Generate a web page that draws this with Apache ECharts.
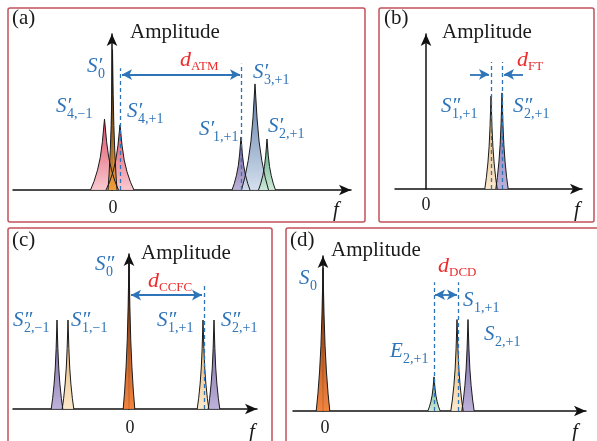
<!DOCTYPE html>
<html>
<head>
<meta charset="utf-8">
<script src="https://cdn.jsdelivr.net/npm/echarts@6/dist/echarts.min.js"></script>
<style>
  html, body { margin: 0; background: #fff; }
  #chart { width: 597px; height: 441px; }
</style>
</head>
<body>
<div id="chart"></div>
<script>
// shape of one spectral line: relative offset from centre / relative height
const PROFILE_DX = [-1, -0.75, -0.5, -0.3, -0.15, 0, 0.15, 0.3, 0.5, 0.75, 1]
const PROFILE_H = [0, 0.12, 0.28, 0.46, 0.68, 1, 0.68, 0.46, 0.28, 0.12, 0]

// panel (a)
const aCenter = [-0.75, 0.8, 12.9, 14.3, 15.5, 0.05]
const aHeight = [0.455, 0.417, 0.34, 0.68, 0.327, 0.9]
const aWidth = [1.4, 1.4, 0.9, 1.35, 0.85, 0.45]
const aColor = ['pink', 'pink', 'purple', 'blue', 'green', 'dark']
const aDashX = [0.8, 12.9]
const aDashTop = [0.78, 0.81]
const aArrow = [1.0, 12.8, 0.74]

// panel (b)
const bCenter = [6.5, 7.6]
const bHeight = [0.6, 0.62]
const bWidth = [0.62, 0.62]
const bColor = ['yellow', 'purple']
const bDashX = [6.5, 7.6]
const bDashTop = [0.82, 0.82]
const bArrowL = [4.4, 6.3, 0.74]
const bArrowR = [9.7, 7.8, 0.74]

// panel (c)
const cCenter = [-7.2, -6.1, 0, 7.4, 8.5]
const cHeight = [0.574, 0.574, 0.97, 0.574, 0.574]
const cWidth = [0.58, 0.58, 0.58, 0.58, 0.58]
const cColor = ['purple', 'yellow', 'orange', 'yellow', 'purple']
const cDashX = [7.5]
const cDashTop = [0.81]
const cArrow = [0.2, 7.3, 0.735]

// panel (d)
const dCenter = [0, 11.1, 13.4, 14.5]
const dHeight = [0.92, 0.22, 0.59, 0.59]
const dWidth = [0.68, 0.62, 0.62, 0.62]
const dColor = ['orange', 'green', 'yellow', 'purple']
const dDashX = [11.1, 13.5]
const dDashTop = [0.83, 0.83]
const dArrow = [11.2, 13.4, 0.75]

const FILLS = {
  pink: ['#dc3c55', '#f8c4cc'],
  dark: ['#111111', '#f29a30'],
  blue: ['#4a6c9c', '#d0ddec'],
  purple: ['#5f4f92', '#b8aad6'],
  green: ['#3a9866', '#cbe8d6'],
  yellow: ['#d9a04c', '#fce7c8'],
  orange: ['#6a2400', '#f07a30']
}

const BLUE = '#2e74b8'
const RED = '#ee2b2b'
const FONT = 'Liberation Serif'

const grids = [
  { left: 13, top: 34, width: 338, height: 156 },
  { left: 395, top: 34, width: 187, height: 155 },
  { left: 13, top: 254, width: 244, height: 155 },
  { left: 293, top: 256, width: 293, height: 155 }
]
const xRanges = [[-9.9, 23.9], [-3.1, 15.6], [-11.6, 12.8], [-3.0, 26.3]]

const axisLine = {
  show: true,
  onZero: true,
  symbol: ['none', 'arrow'],
  symbolSize: [8, 12],
  lineStyle: { color: '#111', width: 1.5 }
}

const peakSeries = (idx, centers, heights, widths, colors) =>
  centers.map((c, i) => ({
    type: 'line',
    xAxisIndex: idx,
    yAxisIndex: idx,
    silent: true,
    symbol: 'none',
    z: 2,
    lineStyle: { color: '#1a1a1a', width: 1 },
    areaStyle: {
      opacity: 0.92,
      color: new echarts.graphic.LinearGradient(0, 0, 0, 1, [
        { offset: 0, color: FILLS[colors[i]][0] },
        { offset: 1, color: FILLS[colors[i]][1] }
      ])
    },
    data: PROFILE_DX.map((d, k) => [c + d * widths[i], heights[i] * PROFILE_H[k]])
  }))

// arrows: [from, to, y, noStartHead]
const markSeries = (idx, dashX, dashTop, arrows) => {
  const lines = dashX.map((x, i) => [
    { coord: [x, 0], symbol: 'none', lineStyle: { type: [4, 3], color: BLUE, width: 1.3 } },
    { coord: [x, dashTop[i]], symbol: 'none' }
  ])
  arrows.forEach(a => {
    lines.push([
      { coord: [a[0], a[2]], symbol: a[3] ? 'none' : 'arrow', symbolSize: [8, 10], lineStyle: { type: 'solid', color: BLUE, width: 1.8 } },
      { coord: [a[1], a[2]], symbol: 'arrow', symbolSize: [8, 10] }
    ])
  })
  return {
    type: 'line',
    xAxisIndex: idx,
    yAxisIndex: idx,
    symbol: 'none',
    data: [],
    z: 5,
    markLine: {
      silent: true,
      animation: false,
      label: { show: false },
      data: lines
    }
  }
}

// italic symbol with optional prime, then a subscript
const lab = (x, yc, main, sub, color, subGap) => [
  {
    type: 'text', x: x, y: yc, z: 10,
    style: { text: main, fontFamily: FONT, fontSize: 21, fontStyle: 'italic', fill: color, verticalAlign: 'middle' }
  },
  {
    type: 'text', x: x + (subGap || 11), y: yc + 8, z: 10,
    style: { text: sub, fontFamily: FONT, fontSize: 14, fill: color, verticalAlign: 'middle' }
  }
]

const plain = (x, y, text, size, italic, align) => ({
  type: 'text',
  x: x,
  y: y,
  z: 10,
  style: {
    text: text,
    fontFamily: FONT,
    fontSize: size,
    fontStyle: italic ? 'italic' : 'normal',
    fill: '#1a1a1a',
    align: align || 'left',
    verticalAlign: 'middle'
  }
})

const box = (x, y, w, h) => ({
  type: 'rect',
  z: 0,
  shape: { x: x, y: y, width: w, height: h, r: 2 },
  style: { fill: 'none', stroke: '#c4505a', lineWidth: 1.5 }
})

const dSub = (x, yc, sub) => [
  {
    type: 'text', x: x, y: yc, z: 10,
    style: { text: 'd', fontFamily: FONT, fontSize: 22, fontStyle: 'italic', fill: RED, verticalAlign: 'middle' }
  },
  {
    type: 'text', x: x + 11, y: yc + 7, z: 10,
    style: { text: sub, fontFamily: FONT, fontSize: 13, fill: RED, verticalAlign: 'middle' }
  }
]

const graphics = [
  box(8, 8, 357, 214),
  box(379, 8, 215, 214),
  box(8, 228, 264, 230),
  box(286, 228, 330, 230),

  plain(12, 18, '(a)', 21),
  plain(130, 32, 'Amplitude', 21),
  plain(113, 208, '0', 18, false, 'center'),
  plain(336, 210, 'f', 21, true, 'center'),
  ...lab(87, 66, 'S′', '0', BLUE),
  ...lab(56, 106, 'S′', '4,−1', BLUE),
  ...lab(127, 111, 'S′', '4,+1', BLUE),
  ...lab(253, 72, 'S′', '3,+1', BLUE),
  ...lab(199, 129, 'S′', '1,+1', BLUE, 14),
  ...lab(268, 126, 'S′', '2,+1', BLUE),
  ...dSub(180, 60, 'ATM'),

  plain(384, 18, '(b)', 21),
  plain(442, 32, 'Amplitude', 21),
  plain(426, 205, '0', 18, false, 'center'),
  plain(577, 210, 'f', 21, true, 'center'),
  ...lab(441, 106, 'S″', '1,+1', BLUE),
  ...lab(513, 106, 'S″', '2,+1', BLUE),
  ...dSub(517, 60, 'FT'),

  plain(12, 240, '(c)', 21),
  plain(141, 253, 'Amplitude', 21),
  plain(130, 428, '0', 18, false, 'center'),
  plain(252, 432, 'f', 21, true, 'center'),
  ...lab(95, 264, 'S″', '0', BLUE),
  ...lab(13, 320, 'S″', '2,−1', BLUE),
  ...lab(71, 320, 'S″', '1,−1', BLUE),
  ...lab(157, 320, 'S″', '1,+1', BLUE),
  ...lab(221, 320, 'S″', '2,+1', BLUE),
  ...dSub(148, 281, 'CCFC'),

  plain(290, 240, '(d)', 21),
  plain(331, 250, 'Amplitude', 21),
  plain(325, 428, '0', 18, false, 'center'),
  plain(575, 432, 'f', 21, true, 'center'),
  ...lab(299, 278, 'S', '0', BLUE),
  ...lab(463, 300, 'S', '1,+1', BLUE),
  ...lab(484, 334, 'S', '2,+1', BLUE),
  ...lab(390, 351, 'E', '2,+1', BLUE, 13),
  ...dSub(438, 266, 'DCD')
]

const chart = echarts.init(document.getElementById('chart'), null, { renderer: 'canvas' })

chart.setOption({
  animation: false,
  backgroundColor: '#fff',
  grid: grids,
  xAxis: xRanges.map((r, i) => ({
    type: 'value',
    gridIndex: i,
    min: r[0],
    max: r[1],
    axisLine: axisLine,
    axisTick: { show: false },
    axisLabel: { show: false },
    splitLine: { show: false }
  })),
  yAxis: grids.map((g, i) => ({
    type: 'value',
    gridIndex: i,
    min: 0,
    max: 1,
    axisLine: axisLine,
    axisTick: { show: false },
    axisLabel: { show: false },
    splitLine: { show: false }
  })),
  series: [
    ...peakSeries(0, aCenter, aHeight, aWidth, aColor),
    ...peakSeries(1, bCenter, bHeight, bWidth, bColor),
    ...peakSeries(2, cCenter, cHeight, cWidth, cColor),
    ...peakSeries(3, dCenter, dHeight, dWidth, dColor),
    markSeries(0, aDashX, aDashTop, [aArrow]),
    markSeries(1, bDashX, bDashTop, [bArrowL.concat(1), bArrowR.concat(1)]),
    markSeries(2, cDashX, cDashTop, [cArrow]),
    markSeries(3, dDashX, dDashTop, [dArrow])
  ],
  graphic: graphics
})
</script>
</body>
</html>
